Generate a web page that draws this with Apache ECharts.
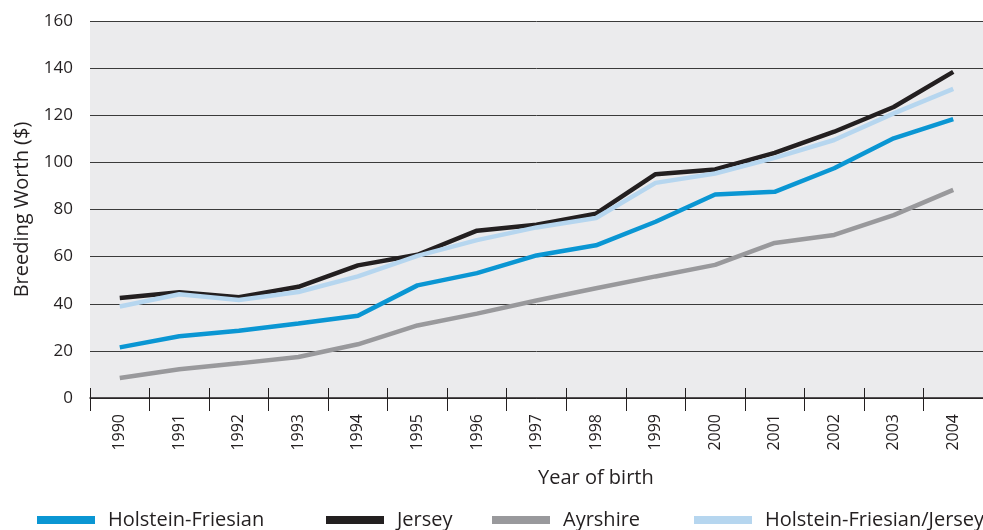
<!DOCTYPE html>
<html>
<head>
<meta charset="utf-8">
<script src="https://cdn.jsdelivr.net/npm/echarts@6/dist/echarts.min.js"></script>
<style>
  html, body { margin: 0; padding: 0; background: #fff; }
  #chart { width: 983px; height: 530px; }
</style>
</head>
<body>
<div id="chart"></div>
<script>
const years = ['1990', '1991', '1992', '1993', '1994', '1995', '1996', '1997',
  '1998', '1999', '2000', '2001', '2002', '2003', '2004']

const holsteinFriesian = [21.5, 26.2, 28.5, 31.6, 34.9, 47.8, 53, 60.5, 64.8, 74.8, 86.4, 87.5, 97.5, 110.2, 118.4]
const jersey = [42.4, 44.9, 42.8, 47.2, 56.3, 60.8, 71, 73.5, 78.2, 95, 97, 104, 113, 123.5, 138.4]
const ayrshire = [8.5, 12.2, 14.7, 17.4, 22.8, 30.8, 35.8, 41.4, 46.6, 51.6, 56.5, 65.8, 69.2, 77.6, 88.3]
const hfJersey = [38.8, 44, 41.6, 45, 51.6, 60.3, 67, 72.4, 76.4, 91.3, 95.3, 101.9, 109.5, 120.8, 131.2]

const seriesNames = ['Holstein-Friesian', 'Jersey', 'Ayrshire', 'Holstein-Friesian/Jersey']
const seriesColors = ['#0a96d3', '#231f20', '#99999c', '#b6d6ef']
const seriesData = [holsteinFriesian, jersey, ayrshire, hfJersey]
const legendLefts = [32, 321, 487, 689]

const font = '"Open Sans", "Noto Sans", sans-serif'
const chart = echarts.init(document.getElementById('chart'), null, { renderer: 'canvas' })

chart.setOption({
  animation: false,
  backgroundColor: '#ffffff',
  textStyle: { fontFamily: font },
  grid: {
    left: 90, right: -7, top: 21, bottom: 132,
    show: true, backgroundColor: '#ebebed', borderWidth: 0
  },
  legend: seriesNames.map((name, i) => ({
    data: [name],
    left: legendLefts[i],
    top: 505,
    icon: 'rect',
    itemWidth: 58,
    itemHeight: 8,
    textStyle: { fontFamily: font, fontSize: 20, color: '#231f20', padding: [0, 0, 0, 8] }
  })),
  xAxis: [{
    type: 'category',
    data: years,
    boundaryGap: true,
    axisLine: { lineStyle: { color: '#231f20', width: 1.5 } },
    axisTick: { show: true, length: 13, lineStyle: { color: '#231f20', width: 1 } },
    axisLabel: {
      rotate: 90, margin: 16, fontSize: 16, color: '#231f20', fontFamily: font
    }
  }, {
    type: 'category',
    data: years,
    position: 'bottom',
    boundaryGap: true,
    axisLine: { show: false },
    axisTick: { show: true, inside: true, length: 10, lineStyle: { color: '#231f20', width: 1 } },
    axisLabel: { show: false }
  }],
  yAxis: {
    type: 'value',
    min: 0, max: 160, interval: 20,
    name: 'Breeding Worth ($)',
    nameLocation: 'middle',
    nameGap: 58,
    nameTextStyle: { fontSize: 20, color: '#231f20', fontFamily: font },
    axisLine: { show: false },
    axisTick: { show: false },
    axisLabel: { fontSize: 17, color: '#231f20', margin: 17, fontFamily: font },
    splitLine: { lineStyle: { color: '#3a3a3a', width: 1 } }
  },
  graphic: [{
    type: 'text',
    left: 538,
    top: 468,
    style: { text: 'Year of birth', fontSize: 20, fill: '#231f20', fontFamily: font }
  }],
  series: seriesNames.map((name, i) => ({
    name,
    type: 'line',
    data: seriesData[i],
    symbol: 'none',
    color: seriesColors[i],
    lineStyle: { width: 4.5, color: seriesColors[i] }
  }))
})
</script>
</body>
</html>
